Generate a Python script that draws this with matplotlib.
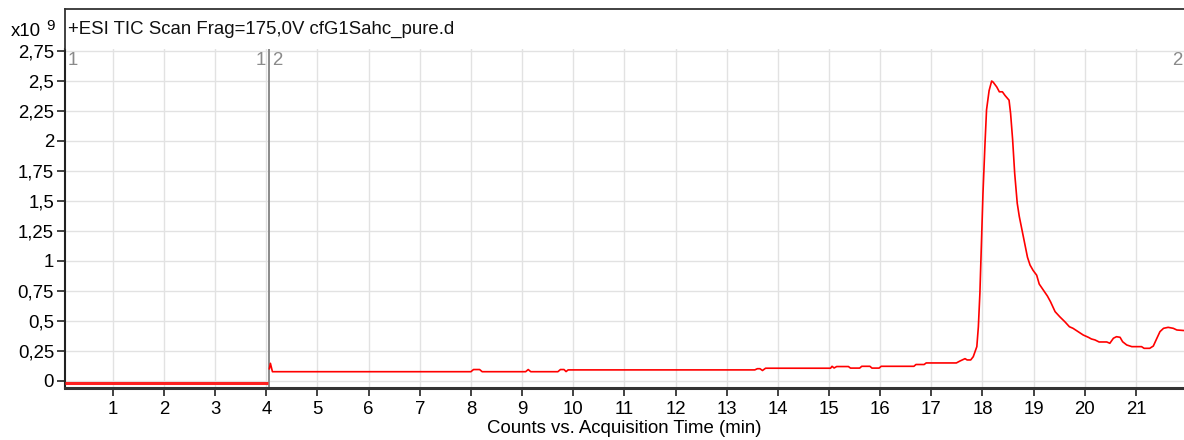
import matplotlib
matplotlib.use("Agg")
import matplotlib.pyplot as plt
from matplotlib.ticker import FuncFormatter

plt.rcParams['font.family'] = ['Liberation Sans', 'DejaVu Sans']

# ---- data (time in min, counts in 1e9) ----
seg1_time = [0.055, 4.04]
seg1_counts = [-0.018, -0.018]

seg2_time = [4.06, 4.08, 4.12, 8.0, 8.05, 8.17, 8.22, 9.07, 9.12, 9.17, 9.7, 9.75, 9.82, 9.86, 9.9,
             13.55, 13.6, 13.65, 13.7, 13.76, 15.03, 15.06, 15.1, 15.15, 15.38, 15.42, 15.6, 15.64,
             15.8, 15.84, 15.98, 16.02, 16.66, 16.7, 16.86, 16.9, 17.49, 17.56, 17.66, 17.7, 17.77,
             17.82, 17.89, 17.92, 17.95, 17.98, 18.01, 18.05, 18.08, 18.13, 18.18, 18.21, 18.28,
             18.33, 18.39, 18.44, 18.52, 18.55, 18.59, 18.63, 18.68, 18.72, 18.80, 18.88, 18.93,
             18.99, 19.06, 19.11, 19.19, 19.27, 19.33, 19.42, 19.51, 19.61, 19.70, 19.77, 19.87,
             19.97, 20.07, 20.13, 20.20, 20.28, 20.43, 20.49, 20.56, 20.62, 20.69, 20.74, 20.82,
             20.92, 21.02, 21.11, 21.16, 21.27, 21.34, 21.41, 21.47, 21.54, 21.63, 21.73, 21.80, 21.95]
seg2_counts = [0.10, 0.145, 0.075, 0.075, 0.093, 0.093, 0.075, 0.075, 0.093, 0.075, 0.075, 0.093, 0.093, 0.076, 0.090,
               0.090, 0.10, 0.10, 0.085, 0.104, 0.104, 0.12, 0.106, 0.118, 0.118, 0.105, 0.105, 0.12,
               0.12, 0.105, 0.105, 0.12, 0.12, 0.135, 0.135, 0.148, 0.148, 0.164, 0.184, 0.173, 0.173,
               0.20, 0.284, 0.45, 0.73, 1.146, 1.56, 1.98, 2.26, 2.42, 2.50, 2.49, 2.45,
               2.41, 2.41, 2.38, 2.34, 2.23, 2.01, 1.73, 1.48, 1.37, 1.20, 1.03, 0.965,
               0.92, 0.88, 0.806, 0.756, 0.706, 0.659, 0.576, 0.534, 0.492, 0.45, 0.437, 0.409,
               0.381, 0.362, 0.348, 0.34, 0.323, 0.323, 0.312, 0.354, 0.367, 0.362, 0.325, 0.298,
               0.284, 0.284, 0.284, 0.27, 0.27, 0.289, 0.354, 0.409, 0.437, 0.445, 0.437, 0.423, 0.418]

segment_bounds = [0.055, 4.045, 21.94]
segment_labels = ["1", "2"]

x_ticks = list(range(1, 22))
y_ticks = [i * 0.25 for i in range(12)]

title = "+ESI TIC Scan Frag=175,0V cfG1Sahc_pure.d"
xlabel = "Counts vs. Acquisition Time (min)"

FS = 13.4

W, H = 1184, 440
fig = plt.figure(figsize=(W / 100, H / 100), dpi=100)

left_px, right_px = 64.5, 1184
top_px, bottom_px, header_top_px = 49, 388, 9.5
ax = fig.add_axes([left_px / W, 1 - bottom_px / H, (right_px - left_px) / W, (bottom_px - top_px) / H])
hdr = fig.add_axes([left_px / W, 1 - top_px / H, (right_px - left_px) / W, (top_px - header_top_px) / H])

# header box
for s in ['right', 'bottom']:
    hdr.spines[s].set_visible(False)
for s in ['left', 'top']:
    hdr.spines[s].set_color('#333333')
    hdr.spines[s].set_linewidth(1.3)
hdr.set_xticks([]); hdr.set_yticks([])
hdr.text(4 / (right_px - left_px), 0.5, title, transform=hdr.transAxes, ha='left', va='center',
         fontsize=FS, color='#111111')
fig.text(11 / W, 1 - 32 / H, "x10", ha='left', va='center', fontsize=FS)
fig.text(46 / W, 1 - 26 / H, "9", ha='left', va='center', fontsize=11)

ax.set_xlim(segment_bounds[0], segment_bounds[-1])
ax.set_ylim(-0.061, 2.767)

ax.set_xticks(x_ticks)
ax.set_yticks(y_ticks)
ax.yaxis.set_major_formatter(FuncFormatter(lambda v, p: ('%g' % v).replace('.', ',')))
ax.grid(True, color='#e2e2e2', linewidth=1.0)
ax.set_axisbelow(True)
ax.tick_params(axis='both', direction='out', length=6, width=1.2, color='#222222', labelsize=FS)
ax.tick_params(axis='x', pad=3)
ax.tick_params(axis='y', pad=1.5)
for s in ['top', 'right']:
    ax.spines[s].set_visible(False)
ax.spines['left'].set_color('#222222')
ax.spines['left'].set_linewidth(1.5)
ax.spines['bottom'].set_color('#333333')
ax.spines['bottom'].set_linewidth(2.2)

# segment markers
for b in segment_bounds[:-1]:
    ax.axvline(b, color='#8a8a8a', linewidth=1.4, zorder=2)
ax.text(segment_bounds[0] + 0.06, 2.67, segment_labels[0], color='#8a8a8a', fontsize=FS, ha='left', va='center')
ax.text(segment_bounds[1] - 0.06, 2.67, segment_labels[0], color='#8a8a8a', fontsize=FS, ha='right', va='center')
ax.text(segment_bounds[1] + 0.06, 2.67, segment_labels[1], color='#8a8a8a', fontsize=FS, ha='left', va='center')
ax.text(segment_bounds[2] - 0.04, 2.67, segment_labels[1], color='#8a8a8a', fontsize=FS, ha='right', va='center')

ax.plot(seg1_time, seg1_counts, color='#ff2020', linewidth=2.2, zorder=3, solid_capstyle='butt')
ax.plot(seg2_time, seg2_counts, color='#ff0000', linewidth=1.2, zorder=3)

ax.set_xlabel(xlabel, fontsize=FS, labelpad=2)

fig.savefig("out.png", dpi=100)
